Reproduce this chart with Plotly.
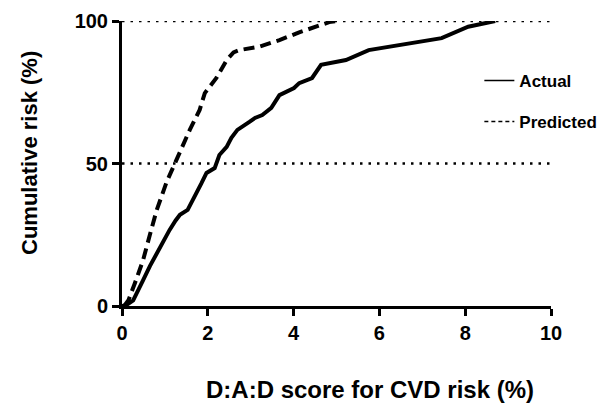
import plotly.graph_objects as go

actual_x = [0.0, 0.1, 0.26, 0.35, 0.49, 0.65, 0.81, 0.95, 1.11, 1.25, 1.35, 1.53, 1.65, 1.74, 1.85, 1.97, 2.1, 2.16,
            2.27, 2.44, 2.55, 2.69, 2.97, 3.1, 3.27, 3.48, 3.67, 3.85, 4.01, 4.13, 4.43, 4.64, 5.22, 5.75, 6.45,
            7.45, 8.07, 8.7]
actual_y = [0, 0.3, 2, 5, 9, 14, 18.6, 22, 26.7, 30, 32, 33.7, 37, 39.6, 43, 46.7, 48, 48.4,
            53, 55.8, 59, 61.8, 64.6, 66, 67, 69.5, 74, 75.5, 76.5, 78.2, 80, 84.6, 86.3, 89.8, 91.6,
            94, 98, 100]

pred_x = [0.05, 0.15, 0.3, 0.49, 0.65, 0.81, 1.04, 1.23, 1.42, 1.58, 1.81, 1.93, 2.2, 2.44, 2.6, 2.74,
          3.2, 3.67, 4.13, 4.5, 4.83, 5.0]
pred_y = [0, 2, 8, 16, 25, 33.7, 43.5, 50, 55.8, 61.8, 68.8, 74.7, 80, 86.3, 89, 89.8,
          91, 93.3, 96, 98, 99.6, 100]

x_ticks = [0, 2, 4, 6, 8, 10]
y_ticks = [0, 50, 100]
ref_lines = [50, 100]
series_names = ["Actual", "Predicted"]
x_title = "D:A:D score for CVD risk (%)"
y_title = "Cumulative risk (%)"

FONT = "Liberation Sans, Arial, sans-serif"

fig = go.Figure()
fig.add_trace(go.Scatter(x=actual_x, y=actual_y, mode="lines", name=series_names[0],
                         showlegend=False, line=dict(color="black", width=4)))
fig.add_trace(go.Scatter(x=pred_x, y=pred_y, mode="lines", name=series_names[1],
                         showlegend=False, line=dict(color="black", width=4, dash="11px,6px")))
# legend-only entries with thin sample lines, as in the reference
fig.add_trace(go.Scatter(x=[None], y=[None], mode="lines", name=series_names[0],
                         legendgroup="a", line=dict(color="black", width=1.5)))
fig.add_trace(go.Scatter(x=[None], y=[None], mode="lines", name=series_names[1],
                         legendgroup="p", line=dict(color="black", width=1.5, dash="4px,3px")))

for yv in ref_lines:
    fig.add_shape(type="line", xref="x", yref="y", x0=0, x1=10, y0=yv, y1=yv,
                  line=dict(color="black", width=2.5, dash="2.5px,6px"), layer="below")

fig.add_annotation(text=x_title, xref="paper", yref="paper", x=0.577, y=0,
                   xanchor="center", yanchor="middle", yshift=-83, showarrow=False,
                   font=dict(size=24, weight="bold"))
fig.add_annotation(text=y_title, xref="paper", yref="paper", x=0, y=0.537,
                   xanchor="center", yanchor="middle", xshift=-92, textangle=-90,
                   showarrow=False, font=dict(size=22, weight="bold"))

fig.update_layout(
    width=606, height=395,
    margin=dict(l=114, r=61, t=13, b=97),
    paper_bgcolor="white", plot_bgcolor="white",
    font=dict(family=FONT, color="black", size=17, weight="bold"),
    showlegend=True,
    legend=dict(x=0.833, y=0.853, xanchor="left", yanchor="top",
                bgcolor="rgba(0,0,0,0)", tracegroupgap=16,
                font=dict(size=17, weight="bold")),
    xaxis=dict(range=[0, 10], tickvals=x_ticks, showgrid=False, zeroline=False,
               showline=True, linecolor="black", linewidth=3, automargin=False,
               ticks="outside", ticklen=7, tickwidth=3, tickcolor="black",
               tickfont=dict(size=20, weight="bold")),
    yaxis=dict(range=[0, 100], tickvals=y_ticks, showgrid=False, zeroline=False,
               showline=True, linecolor="black", linewidth=3, automargin=False,
               ticks="outside", ticklen=7, tickwidth=3, tickcolor="black",
               tickfont=dict(size=20, weight="bold")),
)

fig.write_html("out.html")
